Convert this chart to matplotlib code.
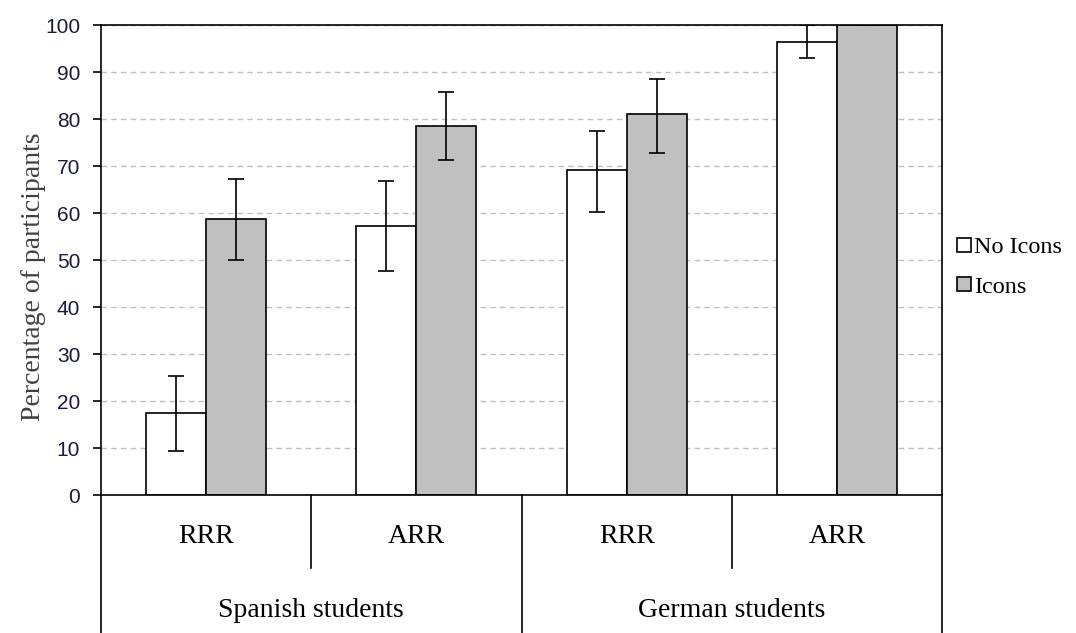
import matplotlib.pyplot as plt
import matplotlib.transforms as mtransforms
from matplotlib.lines import Line2D
import numpy as np

# Data
conditions = ['RRR', 'ARR', 'RRR', 'ARR']
groups = ['Spanish students', 'German students']
no_icons = [17.5, 57.3, 69.1, 96.4]
no_icons_lo = [9.3, 47.7, 60.3, 93.0]
no_icons_hi = [25.3, 66.8, 77.4, 100.0]
icons = [58.8, 78.6, 81.0, 100.0]
icons_lo = [50.0, 71.3, 72.8, 100.0]
icons_hi = [67.2, 85.8, 88.5, 100.0]

serif = 'Liberation Serif'
sans = 'Liberation Sans'

fig = plt.figure(figsize=(10.76, 6.33), dpi=100)
ax = fig.add_axes([0.0939, 0.218, 0.7816, 0.7425])

x = np.arange(len(conditions))
w = 0.2857

# Grid lines behind bars
ax.set_axisbelow(True)
ax.yaxis.grid(True, linestyle=(0, (4, 3)), color='#c0c0c0', linewidth=1)

ax.bar(x - w / 2, no_icons, w, color='white', edgecolor='black', linewidth=1.2, zorder=2)
ax.bar(x + w / 2, icons, w, color='#c0c0c0', edgecolor='black', linewidth=1.2, zorder=2)

err_no = [np.array(no_icons) - np.array(no_icons_lo), np.array(no_icons_hi) - np.array(no_icons)]
err_ic = [np.array(icons) - np.array(icons_lo), np.array(icons_hi) - np.array(icons)]
ax.errorbar(x - w / 2, no_icons, yerr=err_no, fmt='none', ecolor='black', elinewidth=1.2,
            capsize=6, capthick=1.2, zorder=3)
ax.errorbar(x + w / 2, icons, yerr=err_ic, fmt='none', ecolor='black', elinewidth=1.2,
            capsize=6, capthick=1.2, zorder=3)

ax.set_xlim(-0.5, 3.5)
ax.set_ylim(0, 100)
ax.set_yticks(range(0, 101, 10))
ax.set_xticks([])
for lab in ax.get_yticklabels():
    lab.set_fontfamily(sans)
    lab.set_fontsize(15)
    lab.set_color('#1a1a40')
ax.tick_params(axis='y', length=6, width=1.2, direction='out', pad=9)
for s in ax.spines.values():
    s.set_linewidth(1.2)
ax.set_ylabel('Percentage of participants', fontfamily=serif, fontsize=20, color='#404040')
ax.yaxis.set_label_coords(-0.066, 0.465)

# Category table below the axis
trans = mtransforms.blended_transform_factory(ax.transData, ax.transAxes)
for xv in [-0.5, 1.5, 3.5]:
    ax.plot([xv, xv], [0, -0.3], color='black', linewidth=1.2, transform=trans, clip_on=False)
for xv in [0.5, 2.5]:
    ax.plot([xv, xv], [0, -0.155], color='black', linewidth=1.2, transform=trans, clip_on=False)
for i, c in enumerate(conditions):
    ax.text(i, -0.089, c, transform=trans, ha='center', va='center', fontfamily=serif, fontsize=20)
for j, g in enumerate(groups):
    ax.text(2 * j + 0.5, -0.245, g, transform=trans, ha='center', va='center', fontfamily=serif, fontsize=20)

# Legend
handles = [
    Line2D([], [], linestyle='none', marker='s', markersize=10, markerfacecolor='white',
           markeredgecolor='black', markeredgewidth=1.2),
    Line2D([], [], linestyle='none', marker='s', markersize=10, markerfacecolor='#c0c0c0',
           markeredgecolor='black', markeredgewidth=1.2),
]
fig.legend(handles, ['No Icons', 'Icons'], loc='upper left', bbox_to_anchor=(0.8775, 0.646),
           frameon=False, borderpad=0, handlelength=0.6, handletextpad=0.12, labelspacing=0.72,
           prop={'family': serif, 'size': 17.5})

fig.savefig('out.png', dpi=100)
